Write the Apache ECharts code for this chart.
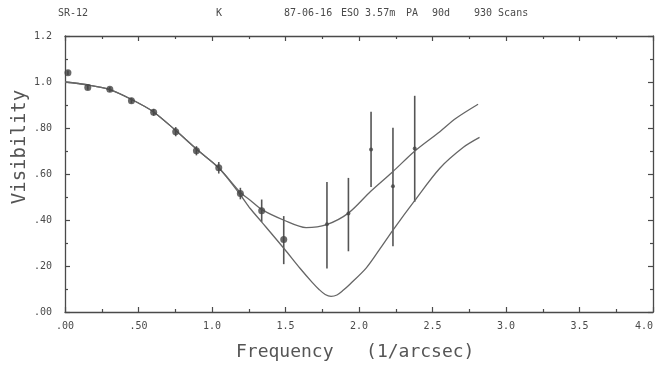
<!DOCTYPE html>
<html>
<head>
<meta charset="utf-8">
<script src="https://cdn.jsdelivr.net/npm/echarts@6/dist/echarts.min.js"></script>
<style>
    html, body { margin: 0; padding: 0; background: #fff; }
    #chart { width: 655px; height: 373px; }
</style>
</head>
<body>
<div id="chart"></div>
<script>
    // measured points (frequency, visibility, error bar low / high)
    var freq    = [0.02, 0.155, 0.305, 0.452, 0.603, 0.753, 0.894, 1.046, 1.193, 1.338, 1.488, 1.782, 1.928, 2.082, 2.231, 2.379];
    var vis     = [1.04, 0.976, 0.968, 0.919, 0.868, 0.784, 0.701, 0.627, 0.515, 0.440, 0.315, 0.382, 0.428, 0.707, 0.547, 0.711];
    var errLow  = [1.03, 0.966, 0.958, 0.907, 0.853, 0.764, 0.681, 0.602, 0.490, 0.392, 0.208, 0.189, 0.264, 0.544, 0.286, 0.479];
    var errHigh = [1.05, 0.986, 0.978, 0.931, 0.883, 0.804, 0.721, 0.652, 0.540, 0.489, 0.417, 0.565, 0.583, 0.871, 0.801, 0.940];

    // model curves
    var upperX = [0, 0.15, 0.30, 0.45, 0.60, 0.75, 0.90, 1.05, 1.19, 1.26, 1.34, 1.49, 1.64, 1.78, 1.93, 2.08, 2.23, 2.38, 2.55, 2.66, 2.81];
    var upperY = [1.0, 0.988, 0.968, 0.925, 0.871, 0.791, 0.705, 0.624, 0.522, 0.486, 0.445, 0.399, 0.367, 0.380, 0.431, 0.525, 0.610, 0.700, 0.784, 0.842, 0.903];
    var lowerX = [0, 0.15, 0.30, 0.45, 0.60, 0.75, 0.90, 1.05, 1.19, 1.26, 1.34, 1.49, 1.60, 1.68, 1.73, 1.77, 1.81, 1.85, 1.89, 1.94, 2.05, 2.14, 2.23, 2.38, 2.55, 2.71, 2.82];
    var lowerY = [1.0, 0.988, 0.968, 0.925, 0.871, 0.791, 0.705, 0.624, 0.512, 0.450, 0.390, 0.276, 0.189, 0.130, 0.097, 0.076, 0.068, 0.074, 0.093, 0.122, 0.192, 0.272, 0.355, 0.485, 0.625, 0.716, 0.759];

    var xTicks = ['.00', '.50', '1.0', '1.5', '2.0', '2.5', '3.0', '3.5', '4.0'];
    var yTicks = ['.00', '.20', '.40', '.60', '.80', '1.0', '1.2'];

    var headerTexts = [
        {text: 'SR-12', x: 58},
        {text: 'K', x: 216},
        {text: '87-06-16', x: 284},
        {text: 'ESO 3.57m', x: 341},
        {text: 'PA', x: 406},
        {text: '90d', x: 432},
        {text: '930 Scans', x: 474}
    ];

    var ink = '#4a4a4a';
    var mono = '"DejaVu Sans Mono", "Liberation Mono", monospace';

    function zip(xs, ys) {
        return xs.map(function (x, i) { return [x, ys[i]]; });
    }

    var myChart = echarts.init(document.getElementById('chart'));

    function axisBase(extra) {
        var base = {
            type: 'value',
            axisLine: {show: true, onZero: false, lineStyle: {color: ink, width: 1.3}},
            axisTick: {show: true, inside: true, length: 5, lineStyle: {color: ink, width: 1.2}},
            minorTick: {show: true, splitNumber: 2, length: 3, lineStyle: {color: ink, width: 1.2}},
            splitLine: {show: false},
            axisLabel: {show: false}
        };
        return Object.assign(base, extra);
    }

    var option = {
        animation: false,
        backgroundColor: '#fff',
        grid: {left: 65, right: 2, top: 36, bottom: 61, containLabel: false, outerBoundsMode: 'none'},
        xAxis: [
            axisBase({
                position: 'bottom', min: 0, max: 4, interval: 0.5,
                axisLabel: {
                    show: true, margin: 9, color: ink, fontFamily: mono, fontSize: 10,
                    alignMaxLabel: 'right',
                    formatter: function (v) { return xTicks[Math.round(v / 0.5)]; }
                }
            }),
            axisBase({position: 'top', min: 0, max: 4, interval: 0.5})
        ],
        yAxis: [
            axisBase({
                position: 'left', min: 0, max: 1.2, interval: 0.2,
                axisLabel: {
                    show: true, margin: 13, color: ink, fontFamily: mono, fontSize: 10,
                    formatter: function (v) { return yTicks[Math.round(v / 0.2)]; }
                }
            }),
            axisBase({position: 'right', min: 0, max: 1.2, interval: 0.2})
        ],
        graphic: headerTexts.map(function (h) {
            return {
                type: 'text', left: h.x, top: 8,
                style: {text: h.text, fill: ink, font: '10px ' + mono}
            };
        }).concat([
            {
                type: 'text', x: 11, y: 147, rotation: Math.PI / 2,
                style: {text: 'Visibility', fill: '#555', font: '19px ' + mono, align: 'center', verticalAlign: 'top'}
            },
            {
                type: 'text', left: 236, top: 343,
                style: {text: 'Frequency   (1/arcsec)', fill: '#555', font: '18px ' + mono}
            }
        ]),
        series: [
            {
                name: 'model 1', type: 'line', data: zip(upperX, upperY),
                smooth: 0.3, showSymbol: false,
                lineStyle: {color: '#666', width: 1.3}
            },
            {
                name: 'model 2', type: 'line', data: zip(lowerX, lowerY),
                smooth: 0.3, showSymbol: false,
                lineStyle: {color: '#666', width: 1.3}
            },
            {
                name: 'errors', type: 'custom',
                data: freq.map(function (f, i) { return [f, errLow[i], errHigh[i]]; }),
                renderItem: function (params, api) {
                    var p0 = api.coord([api.value(0), api.value(1)]);
                    var p1 = api.coord([api.value(0), api.value(2)]);
                    return {
                        type: 'line',
                        shape: {x1: p0[0], y1: p0[1], x2: p1[0], y2: p1[1]},
                        style: {stroke: '#555', lineWidth: 1.6}
                    };
                },
                z: 3
            },
            {
                name: 'data', type: 'scatter', data: zip(freq, vis),
                symbol: 'circle',
                symbolSize: function (val, params) { return params.dataIndex < 11 ? 7 : 4; },
                itemStyle: {color: '#444'},
                z: 4
            }
        ]
    };

    myChart.setOption(option);
</script>
</body>
</html>
